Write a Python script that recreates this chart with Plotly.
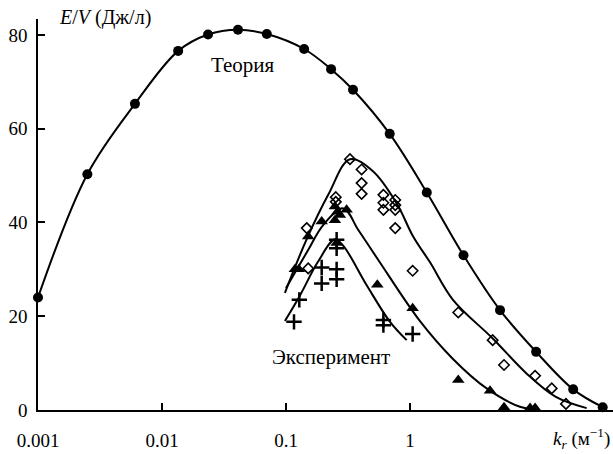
import plotly.graph_objects as go

# ---- data ----
theory_k = [0.001, 0.0025, 0.00605, 0.0135, 0.0235, 0.041, 0.070, 0.14, 0.231, 0.347,
            0.686, 1.366, 2.7, 5.32, 10.4, 20.7, 35.8]
theory_e = [24, 50.3, 65.3, 76.6, 80.1, 81.1, 80.2, 77.0, 72.7, 68.3,
            58.9, 46.4, 33, 21.3, 12.4, 4.4, 0.6]

fitA_k = [0.098, 0.146, 0.22, 0.328, 0.5, 0.78, 1.06, 1.45, 2.22, 4.67, 8.7, 15, 26.6]
fitA_e = [25, 36.3, 46, 53.5, 51, 44.1, 37, 31.5, 23.5, 15.2, 7.8, 2.8, 0.4]

fitB_k = [0.1, 0.15, 0.2, 0.29, 0.383, 0.555, 1.2, 2.2, 4.15, 7.7, 9.8]
fitB_e = [26, 34, 39.5, 43, 38.4, 32, 19, 11, 4.6, 0.7, 0.2]

fitC_k = [0.098, 0.13, 0.18, 0.248, 0.29, 0.45, 0.69, 0.94]
fitC_e = [19, 24.5, 31.5, 36.4, 35, 26.5, 18.8, 14.9]

diam_k = [0.328, 0.407, 0.407, 0.407, 0.61, 0.61, 0.61, 0.76, 0.76, 0.76, 0.76,
          0.252, 0.252, 0.147, 0.151, 1.05, 2.45, 4.64, 5.73, 10.2, 13.9, 18.1]
diam_e = [53.5, 51.3, 48.4, 46.1, 45.9, 44.2, 42.7, 44.8, 43.7, 42.7, 38.8,
          45.4, 44.4, 38.8, 30.2, 29.7, 20.8, 14.9, 9.6, 7.3, 4.6, 1.3]

tri_k = [0.248, 0.26, 0.272, 0.248, 0.308, 0.194, 0.151, 0.118, 0.127, 0.256,
         0.545, 1.05, 2.45, 4.42, 5.73, 9.3, 10.2]
tri_e = [43.4, 42.3, 41.6, 40.5, 42.7, 40.2, 37.0, 30.0, 30.0, 35.6,
         26.7, 21.7, 6.4, 4.1, 0.6, 0.4, 0.4]

plus_k = [0.194, 0.256, 0.194, 0.256, 0.256, 0.256, 0.128, 0.116, 0.61, 0.61, 1.05]
plus_e = [30.4, 30.0, 27.0, 27.9, 34.5, 36.3, 23.5, 18.8, 19.2, 18.1, 16.2]

xtick_vals = [0.001, 0.01, 0.1, 1]
xtick_text = ["0.001", "0.01", "0.1", "1"]
ytick_vals = [0, 20, 40, 60, 80]

FONT = "Liberation Serif"

fig = go.Figure()
for kk, ee in [(fitA_k, fitA_e), (fitB_k, fitB_e), (fitC_k, fitC_e)]:
    fig.add_trace(go.Scatter(x=kk, y=ee, mode="lines",
                             line=dict(color="black", width=2, shape="spline", smoothing=1.0),
                             hoverinfo="skip"))
fig.add_trace(go.Scatter(x=theory_k, y=theory_e, mode="lines+markers",
                         line=dict(color="black", width=2, shape="spline", smoothing=1.0),
                         marker=dict(symbol="circle", size=10, color="black"),
                         cliponaxis=False))
fig.add_trace(go.Scatter(x=diam_k, y=diam_e, mode="markers",
                         marker=dict(symbol="diamond-open", size=8, color="black",
                                     line=dict(width=1.6, color="black"))))
fig.add_trace(go.Scatter(x=tri_k, y=tri_e, mode="markers",
                         marker=dict(symbol="triangle-up", size=11, color="black"),
                         cliponaxis=False))
fig.add_trace(go.Scatter(x=plus_k, y=plus_e, mode="markers",
                         marker=dict(symbol="cross-thin", size=11, color="black",
                                     line=dict(width=2.5, color="black"))))

fig.update_xaxes(type="log", range=[-3, 1.637], tickvals=xtick_vals, ticktext=xtick_text,
                 ticks="inside", ticklen=7, tickwidth=1.5, tickcolor="black",
                 showline=True, linecolor="black", linewidth=1.5,
                 showgrid=False, zeroline=False, ticklabelstandoff=12,
                 tickfont=dict(family=FONT, size=19, color="black"))
fig.update_yaxes(range=[0, 83.4], tickvals=ytick_vals,
                 ticks="inside", ticklen=7, tickwidth=1.5, tickcolor="black",
                 showline=True, linecolor="black", linewidth=1.5,
                 showgrid=False, zeroline=False, ticklabelstandoff=5,
                 tickfont=dict(family=FONT, size=19, color="black"))

fig.add_annotation(x=-1.347, y=73.6, xref="x", yref="y", text="Теория", showarrow=False,
                   font=dict(family=FONT, size=21, color="black"))
fig.add_annotation(x=-0.637, y=11.3, xref="x", yref="y", text="Эксперимент", showarrow=False,
                   font=dict(family=FONT, size=21, color="black"))
fig.add_annotation(x=0.033, y=1.005, xref="paper", yref="paper", xanchor="left", yanchor="middle",
                   text="<i>E</i>/<i>V</i> (Дж/л)", showarrow=False,
                   font=dict(family=FONT, size=20, color="black"))
fig.add_annotation(x=0.999, y=-0.072, xref="paper", yref="paper", xanchor="right", yanchor="middle",
                   text="<i>k<sub>r</sub></i> (м<sup>−1</sup>)", showarrow=False,
                   font=dict(family=FONT, size=19, color="black"))

fig.update_layout(width=613, height=454, margin=dict(l=38, r=0, t=19, b=44),
                  paper_bgcolor="white", plot_bgcolor="white", showlegend=False)

fig.write_html("out.html")
